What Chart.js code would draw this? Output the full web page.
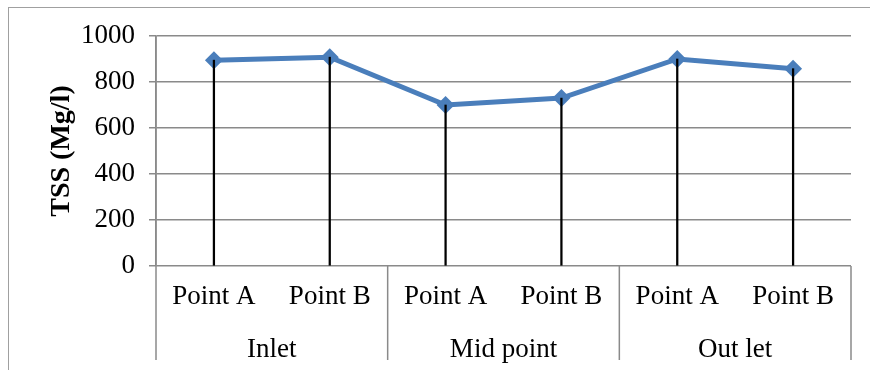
<!DOCTYPE html>
<html>
<head>
<meta charset="utf-8">
<script src="https://cdn.jsdelivr.net/npm/chart.js@4"></script>
<style>
  html,body{margin:0;padding:0;background:#fff;}
  #wrap{position:relative;width:870px;height:370px;overflow:hidden;}
  #frame{position:absolute;left:8px;top:7px;width:900px;height:400px;border-left:1.5px solid #a0a0a0;border-top:1.5px solid #a0a0a0;}
  canvas{position:absolute;left:0;top:0;}
</style>
</head>
<body>
<div id="wrap">
  <div id="frame"></div>
  <canvas id="c" width="870" height="370"></canvas>
</div>
<script>
const pointLabels = ["Point A", "Point B", "Point A", "Point B", "Point A", "Point B"];
const groupLabels = ["Inlet", "Mid point", "Out let"];
const tssValues = [895, 908, 700, 730, 900, 858];
const yTicks = [0, 200, 400, 600, 800, 1000];

const FONT = "'Liberation Serif', 'Times New Roman', serif";
const GRID = "#8a8a8a";

const separators = {
  id: "separators",
  afterDraw(chart) {
    const ctx = chart.ctx;
    const x = chart.scales.x;
    const area = chart.chartArea;
    const n = pointLabels.length;
    const per = n / groupLabels.length;
    ctx.save();
    ctx.strokeStyle = GRID;
    ctx.lineWidth = 1.5;
    for (let g = 0; g <= groupLabels.length; g++) {
      let px;
      if (g === 0) px = area.left;
      else if (g === groupLabels.length) px = area.right;
      else px = (x.getPixelForValue(g * per - 1) + x.getPixelForValue(g * per)) / 2;
      ctx.beginPath();
      ctx.moveTo(px, g === 0 ? area.top : area.bottom);
      ctx.lineTo(px, 360);
      ctx.stroke();
    }
    ctx.restore();
  }
};

new Chart(document.getElementById("c"), {
  data: {
    labels: pointLabels,
    datasets: [
      {
        type: "line",
        data: tssValues,
        borderColor: "#4a7ebb",
        backgroundColor: "#4a7ebb",
        borderWidth: 5,
        pointStyle: "rectRot",
        pointRadius: 9,
        pointBorderWidth: 0,
        tension: 0,
        order: 2
      },
      {
        type: "bar",
        data: tssValues,
        backgroundColor: "#000000",
        barThickness: 1.6,
        order: 1
      }
    ]
  },
  options: {
    responsive: false,
    animation: false,
    layout: { padding: { left: 0, right: 19, top: 36, bottom: 0 } },
    plugins: { legend: { display: false }, tooltip: { enabled: false } },
    scales: {
      x: {
        type: "category",
        position: "bottom",
        offset: true,
        grid: { display: false, drawTicks: false },
        border: { display: false },
        ticks: { color: "#000", font: { family: FONT, size: 27 }, padding: 15, maxRotation: 0, autoSkip: false },
        afterFit(s) { s.height = 50; }
      },
      x2: {
        type: "category",
        position: "bottom",
        offset: true,
        labels: groupLabels,
        grid: { display: false, drawTicks: false },
        border: { display: false },
        ticks: { color: "#000", font: { family: FONT, size: 27 }, padding: 18, maxRotation: 0, autoSkip: false },
        afterFit(s) { s.height = 54; }
      },
      y: {
        min: 0,
        max: 1000,
        afterBuildTicks(s) { s.ticks = yTicks.map(v => ({ value: v })); },
        grid: { color: GRID, lineWidth: 1.5, tickLength: 7, drawTicks: true },
        border: { color: GRID, width: 1.5 },
        ticks: { color: "#000", font: { family: FONT, size: 27 }, padding: 14, callback: v => String(v) },
        title: { display: true, text: "TSS (Mg/l)", color: "#000", font: { family: FONT, size: 28, weight: "bold" }, padding: { top: 45, bottom: 10 } },
        afterFit(s) { s.width = 156; }
      }
    }
  },
  plugins: [separators]
});
</script>
</body>
</html>
